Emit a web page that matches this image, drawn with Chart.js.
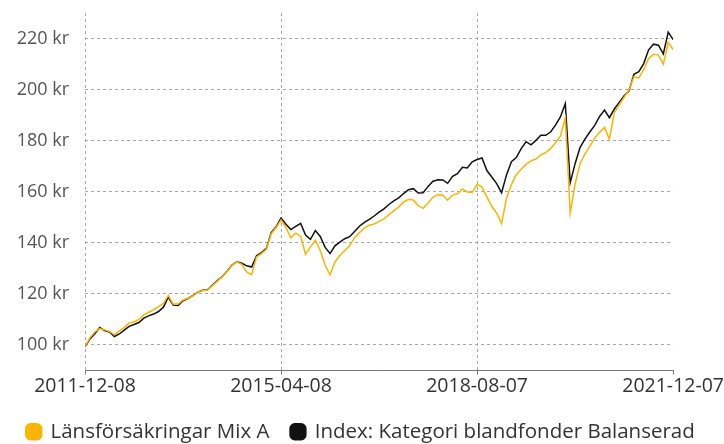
<!DOCTYPE html>
<html>
<head>
<meta charset="utf-8">
<script src="https://cdn.jsdelivr.net/npm/chart.js@4/dist/chart.umd.min.js"></script>
<style>
    html, body { margin: 0; padding: 0; background: #fff; }
    #wrap { width: 724px; height: 444px; }
</style>
</head>
<body>
<div id="wrap"><canvas id="fundChart"></canvas></div>
<script>
// months since 2011-12-08, one value per month
const seriesNames = ['Länsförsäkringar Mix A', 'Index: Kategori blandfonder Balanserad']
const xTickPositions = [0, 40, 80, 120]
const xTickLabels = ['2011-12-08', '2015-04-08', '2018-08-07', '2021-12-07']
const yTicks = [100, 120, 140, 160, 180, 200, 220]

const mixA = [
    99.3, 102.8, 105.1, 106.4, 105.9, 105.3, 104.0, 105.5, 106.8, 108.6,
    109.0, 110.0, 111.8, 112.8, 113.8, 115.0, 116.3, 119.4, 116.0, 116.0,
    117.6, 118.3, 119.2, 120.8, 121.3, 121.5, 123.3, 125.0, 126.7, 128.8,
    131.2, 132.5, 131.6, 128.5, 127.5, 134.5, 135.8, 137.5, 143.5, 146.0,
    149.0, 146.0, 142.0, 143.8, 142.6, 135.5, 138.4, 141.0, 137.0, 131.2,
    127.5, 132.5, 135.0, 137.0, 138.8, 142.0, 144.0, 145.8, 146.9, 147.4,
    148.4, 149.4, 151.0, 152.6, 154.0, 156.0, 157.0, 156.8, 154.6, 153.5,
    155.6, 157.8, 158.9, 158.6, 156.7, 158.7, 159.2, 161.1, 159.9, 159.7,
    162.9, 161.8, 158.0, 154.2, 151.6, 147.5, 157.5, 162.8, 166.7, 168.8,
    170.7, 172.1, 172.8, 174.4, 175.3, 176.9, 179.2, 181.8, 189.0, 151.6,
    163.0, 171.0, 174.7, 177.8, 181.0, 183.3, 185.2, 180.5, 191.0, 194.0,
    197.0, 200.0, 205.0, 204.6, 207.8, 212.2, 213.8, 213.5, 210.0, 218.5,
    215.7
]

const indexBalanserad = [
    99.3, 102.3, 104.4, 106.8, 105.6, 105.1, 103.3, 104.3, 105.8, 107.3,
    108.0, 108.8, 110.5, 111.4, 112.1, 113.1, 114.8, 118.7, 115.6, 115.5,
    117.3, 118.2, 119.3, 120.7, 121.4, 121.6, 123.5, 125.2, 126.8, 128.9,
    131.3, 132.6, 132.0, 131.0, 130.5, 134.9, 136.2, 137.8, 144.0, 146.3,
    149.7, 147.3, 145.2, 146.4, 147.6, 143.0, 141.4, 144.8, 142.5, 138.2,
    135.8, 138.8, 140.3, 141.6, 142.4, 144.4, 146.5, 148.0, 149.2, 150.5,
    152.0, 153.3, 155.0, 156.4, 157.6, 159.3, 160.8, 161.2, 159.5, 159.6,
    162.1, 164.1, 164.7, 164.6, 163.3, 166.0, 167.1, 169.6, 169.3, 171.7,
    172.6, 173.2, 168.3, 165.8, 163.2, 159.6, 166.6, 171.8, 173.4, 176.9,
    179.6, 178.4, 180.1, 182.1, 182.1, 183.4, 186.1, 189.3, 194.5, 163.5,
    171.0, 177.3, 180.6, 183.4, 186.0, 189.5, 192.0, 189.0, 192.4, 195.0,
    197.6, 199.5, 206.0, 207.0, 210.2, 215.6, 217.8, 217.4, 214.0, 222.5,
    219.6
]

const toPoints = values => values.map((v, i) => ({ x: i, y: v }))

const gridGray = '#a8a8a8'
const fontFamily = 'Open Sans'

new Chart(document.getElementById('fundChart'), {
    type: 'line',
    data: {
        datasets: [
            {
                label: seriesNames[0],
                data: toPoints(mixA),
                borderColor: '#fbb400',
                backgroundColor: '#fbb400',
                borderWidth: 1.5,
                pointRadius: 0,
                tension: 0
            },
            {
                label: seriesNames[1],
                data: toPoints(indexBalanserad),
                borderColor: '#111111',
                backgroundColor: '#111111',
                borderWidth: 1.5,
                pointRadius: 0,
                tension: 0
            }
        ]
    },
    options: {
        responsive: true,
        maintainAspectRatio: false,
        animation: false,
        // legend sits a little lower than chart.js would put it
        layout: { padding: { top: 13, left: 0, right: 2, bottom: -8 } },
        plugins: {
            tooltip: { enabled: false },
            legend: {
                position: 'bottom',
                labels: {
                    usePointStyle: true,
                    pointStyle: 'rectRounded',
                    boxHeight: 13,
                    boxWidth: 13,
                    padding: 22,
                    color: '#333',
                    font: { family: fontFamily, size: 20.5 }
                }
            }
        },
        scales: {
            x: {
                type: 'linear',
                min: 0,
                max: 120,
                afterBuildTicks: scale => {
                    scale.ticks = xTickPositions.map(v => ({ value: v }))
                },
                afterFit: scale => { scale.height = 29 },
                ticks: {
                    autoSkip: false,
                    maxRotation: 0,
                    padding: 0,
                    color: '#333',
                    font: { family: fontFamily, size: 19.5 },
                    callback: (value, i) => xTickLabels[i]
                },
                grid: {
                    color: ctx => ctx.index === xTickPositions.length - 1 ? 'rgba(0,0,0,0)' : gridGray,
                    tickColor: '#777',
                    tickLength: 4,
                    lineWidth: 1
                },
                border: { display: true, color: '#777', dash: [3, 3] }
            },
            y: {
                min: 90,
                max: 230,
                afterBuildTicks: scale => {
                    scale.ticks = yTicks.map(v => ({ value: v }))
                },
                afterFit: scale => {
                    scale.width = 85
                    scale.paddingTop = 0
                    scale.paddingBottom = 0
                },
                ticks: {
                    padding: 16,
                    color: '#555',
                    font: { family: fontFamily, size: 18 },
                    callback: value => value + ' kr'
                },
                grid: {
                    color: gridGray,
                    drawTicks: false,
                    lineWidth: 1
                },
                border: { display: false, dash: [3, 3] }
            }
        }
    }
})
</script>
</body>
</html>
